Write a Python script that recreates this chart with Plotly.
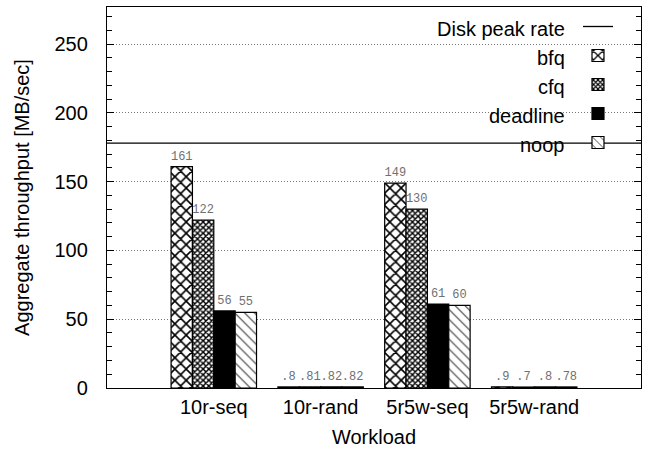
import plotly.graph_objects as go

# ---- data ----
workloads = ["10r-seq", "10r-rand", "5r5w-seq", "5r5w-rand"]
schedulers = ["bfq", "cfq", "deadline", "noop"]
bfq = [161, 0.8, 149, 0.9]
cfq = [122, 0.81, 130, 0.7]
deadline = [56, 0.82, 61, 0.8]
noop = [55, 0.82, 60, 0.78]
disk_peak_rate = 178
y_ticks = [0, 50, 100, 150, 200, 250]

series = [bfq, cfq, deadline, noop]


def fmt(v):
    s = f"{v:g}"
    return s[1:] if s.startswith("0.") else s


FONT = "Liberation Sans"
MONO = "Liberation Mono"

patterns = [
    dict(shape="x", size=8, solidity=0.36, fgcolor="black", bgcolor="white", fgopacity=1),
    dict(shape="x", size=4, solidity=0.6, fgcolor="black", bgcolor="white", fgopacity=1),
    dict(shape="", fgcolor="black", bgcolor="black"),
    dict(shape="\\", size=7, solidity=0.15, fgcolor="#333333", bgcolor="white", fgopacity=1),
]
fills = ["white", "white", "black", "white"]

xpos = list(range(len(workloads)))

fig = go.Figure()

fig.add_trace(go.Scatter(
    x=[xpos[0] - 1, xpos[-1] + 1], y=[disk_peak_rate, disk_peak_rate],
    mode="lines", line=dict(color="black", width=1.3), name="",
    showlegend=True, hoverinfo="skip",
))

for name, vals, pat, fc in zip(schedulers, series, patterns, fills):
    fig.add_trace(go.Bar(
        x=xpos, y=vals, name="",
        marker=dict(color=fc, pattern=pat, line=dict(color="black", width=1.2)),
        text=[fmt(v) for v in vals], textposition="outside",
        textfont=dict(family=MONO, size=12, color="#707070"),
        constraintext="none", cliponaxis=False,
        hovertext=[f"{name}: {v}" for v in vals], hoverinfo="text",
    ))

legend_names = ["Disk peak rate"] + schedulers
legend_rows_y = [0.942, 0.866, 0.790, 0.714, 0.638]
annotations = [
    dict(text=n, x=0.862, y=yy, xref="paper", yref="paper", xanchor="right",
         yanchor="middle", showarrow=False, font=dict(family=FONT, size=20, color="black"))
    for n, yy in zip(legend_names, legend_rows_y)
]

fig.update_layout(
    width=648, height=452,
    margin=dict(l=107, r=7, t=7, b=64),
    paper_bgcolor="white", plot_bgcolor="white",
    barmode="group", bargap=0.2, bargroupgap=0,
    font=dict(family=FONT, size=20, color="black"),
    showlegend=True,
    legend=dict(x=0.882, y=1, xanchor="left", yanchor="top",
                bgcolor="rgba(0,0,0,0)", font=dict(size=20), borderwidth=0),
    annotations=annotations,
    shapes=[dict(type="rect", xref="paper", yref="paper", x0=0.542, x1=1,
                 y0=0.59, y1=1, fillcolor="white", line=dict(width=0), layer="between")],
)

fig.update_xaxes(
    range=[xpos[0] - 1, xpos[-1] + 1], tickvals=xpos, ticktext=workloads,
    showline=True, linecolor="black", linewidth=1.3, mirror=True,
    ticks="", showgrid=False, zeroline=False,
    title=dict(text="Workload", standoff=12, font=dict(size=20)),
    tickfont=dict(size=20), ticklabelstandoff=1,
)
fig.update_yaxes(
    range=[0, 277], tickvals=y_ticks,
    showline=True, linecolor="black", linewidth=1.3, mirror="allticks",
    ticks="inside", ticklen=7, tickcolor="black",
    minor=dict(dtick=10, ticks="inside", ticklen=5, tickcolor="black"),
    showgrid=True, gridcolor="#777777", griddash="1px,2px", gridwidth=1,
    zeroline=False,
    title=dict(text="Aggregate throughput [MB/sec]", standoff=19, font=dict(size=20)),
    tickfont=dict(size=20), ticklabelstandoff=14,
)

fig.write_html("out.html", config={"displayModeBar": False},
               post_script="document.body.style.margin='0';")
